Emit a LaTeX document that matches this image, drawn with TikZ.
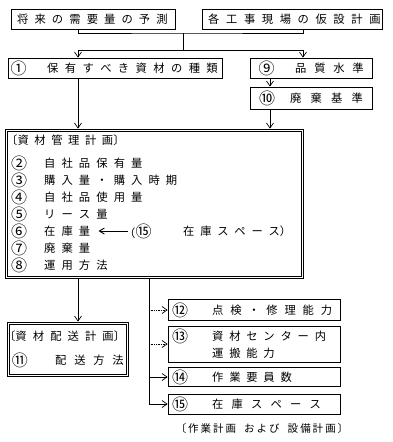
\documentclass[tikz,border=0pt]{standalone}
\usepackage{fontspec}
\newfontfamily\jp{Noto Sans CJK JP}
\usetikzlibrary{arrows.meta}
\newcommand\lsp[2]{\def\lsgap{#1}\lsA#2\relax}
\def\lsA#1#2{#1\ifx\relax#2\else\hspace{\lsgap}\expandafter\lsA\expandafter#2\fi}
\newcommand\cn[1]{{\fontsize{16}{16}\selectfont #1}}
\tikzset{
  bx/.style={draw, line width=0.8pt, inner sep=0pt},
  inner/.style={draw, line width=0.6pt},
  tx/.style={anchor=west, inner sep=0pt, font=\jp\fontsize{11.3}{11.3}\selectfont},
  cx/.style={inner sep=0pt, font=\jp\fontsize{16}{16}\selectfont},
  ln/.style={line width=0.7pt},
  ar/.style={line width=0.7pt, -{Straight Barb[length=5pt,width=7pt]}},
  arL/.style={line width=0.9pt, -{Straight Barb[length=5pt,width=6pt]}},
}
\begin{document}
\begin{tikzpicture}[x=1pt,y=-1pt]
\useasboundingbox (0,0) rectangle (393,442);
% helper x positions
\coordinate (xa) at (78,0);
\coordinate (xb) at (303,0);
\coordinate (xc) at (270,0);
\coordinate (xv) at (149,0);
\coordinate (jM) at (183,33);
\coordinate (kM) at (183,50);

% top boxes
\node[bx, minimum width=164pt, minimum height=20pt] (b1) at (93,19) {};
\node[tx] (t1) at (17,19) {\lsp{6.1pt}{将来の需要量の予測}};
\node[bx, minimum width=180pt, minimum height=20pt] (b2) at (292,19) {};
\node[tx] (t2) at (208,19) {\lsp{6.6pt}{各工事現場の仮設計画}};

% 1, 9, 10
\node[bx, minimum width=214pt, minimum height=20pt] (n1) at (115,68) {};
\node[cx] (c1) at (18.5,68) {①};
\node[tx] (tn1) at (47,68) {\lsp{6.4pt}{保有すべき資材の種類}};
\node[bx, minimum width=122pt, minimum height=20pt] (n9) at (311,68) {};
\node[cx] (c9) at (266.5,68) {⑨};
\node[tx] (tn9) at (295,68) {\lsp{7.8pt}{品質水準}};
\node[bx, minimum width=122pt, minimum height=22pt] (n10) at (311,98) {};
\node[cx] (c10) at (267,98) {⑩};
\node[tx] (tn10) at (290,98) {\lsp{9.2pt}{廃棄基準}};

% connectors at top
\draw[ln] (b1.south -| xa) |- (jM) -| (b2.south -| xb);
\draw[ln] (jM) -- (kM);
\draw[ar] (kM) -| (n1.north -| xa);
\draw[ar] (kM) -| (n9.north -| xb);
\draw[ar] (n9.south -| xc) -- (n10.north -| xc);

% main box (double frame)
\node[bx, minimum width=298pt, minimum height=149pt] (M) at (154,203.5) {};
\draw[inner] ([shift={(2.6pt,-2.6pt)}]M.north west) rectangle ([shift={(-2.6pt,2.6pt)}]M.south east);
\draw[ar] (n1.south -| xa) -- (M.north -| xa);
\draw[ar] (n10.south -| xc) -- (M.north -| xc);
\node[tx] (mt) at (6,140) {〔\lsp{5.6pt}{資材管理計画}〕};
\node[cx] (c2) at (19,163) {②};
\node[tx] (m2) at (44,163) {\lsp{6.1pt}{自社品保有量}};
\node[cx] (c3) at (19,180) {③};
\node[tx] (m3) at (44,180) {\lsp{6.1pt}{購入量・購入時期}};
\node[cx] (c4) at (19,197) {④};
\node[tx] (m4) at (44,197) {\lsp{6.1pt}{自社品使用量}};
\node[cx] (c5) at (19,214) {⑤};
\node[tx] (m5) at (44,214) {\lsp{6.1pt}{リース量}};
\node[cx] (c6) at (19,231) {⑥};
\node[tx] (m6) at (44,231) {\lsp{6.1pt}{在庫量}};
\node[cx] (c7) at (19,248) {⑦};
\node[tx] (m7) at (44,248) {\lsp{6.1pt}{廃棄量}};
\node[cx] (c8) at (19,265) {⑧};
\node[tx] (m8) at (44,265) {\lsp{6.1pt}{運用方法}};
\node[tx] (p15) at (124,231) {（\cn{⑮}};
\node[tx] (q15) at (183,231) {\lsp{5.8pt}{在庫スペース}）};
\draw[arL] ([xshift=4pt]p15.west) -- ([xshift=8pt]m6.east);

% delivery plan box (double frame)
\node[bx, minimum width=121pt, minimum height=54pt] (D) at (67.5,349) {};
\draw[inner] ([shift={(2.6pt,-2.6pt)}]D.north west) rectangle ([shift={(-2.6pt,2.6pt)}]D.south east);
\draw[ar] (M.south -| xa) -- (D.north -| xa);
\node[tx] (dt) at (4,336) {〔\lsp{6.1pt}{資材配送計画}〕};
\node[cx] (c11) at (20,360) {⑪};
\node[tx] (d11) at (55,360) {\lsp{7.8pt}{配送方法}};

% right boxes
\node[bx, minimum width=172pt, minimum height=21pt] (r12) at (254,310) {};
\node[cx] (c12) at (180,310) {⑫};
\node[tx] (tr12) at (212,310) {\lsp{6.8pt}{点検・修理能力}};
\node[bx, minimum width=172pt, minimum height=36pt] (r13) at (254,344) {};
\node[cx] (c13) at (180,336) {⑬};
\node[tx] (tr13) at (212,336) {\lsp{5.8pt}{資材センター内}};
\node[tx] (tr13b) at (212,353) {\lsp{5.8pt}{運搬能力}};
\node[bx, minimum width=172pt, minimum height=19pt] (r14) at (254,377) {};
\node[cx] (c14) at (180,377) {⑭};
\node[tx] (tr14) at (212,377) {\lsp{5.8pt}{作業要員数}};
\node[bx, minimum width=172pt, minimum height=20pt] (r15) at (254,404) {};
\node[cx] (c15) at (180,404) {⑮};
\node[tx] (tr15) at (212,404) {\lsp{8.2pt}{在庫スペース}};

\draw[ar] (M.south -| xv) |- (r15.west);
\draw[ar, densely dotted] (r12.west -| xv) -- (r12.west);
\draw[ar, densely dotted] (r13.west -| xv) -- (r13.west);
\draw[ar] (r14.west -| xv) -- (r14.west);

\node[inner sep=0pt, font=\jp\fontsize{10.5}{10.5}\selectfont] (lab) at (262,429)
  {\lsp{2pt}{〔作業計画}\hspace{8pt}\lsp{2pt}{および}\hspace{8pt}\lsp{2pt}{設備計画〕}};
\end{tikzpicture}
\end{document}
